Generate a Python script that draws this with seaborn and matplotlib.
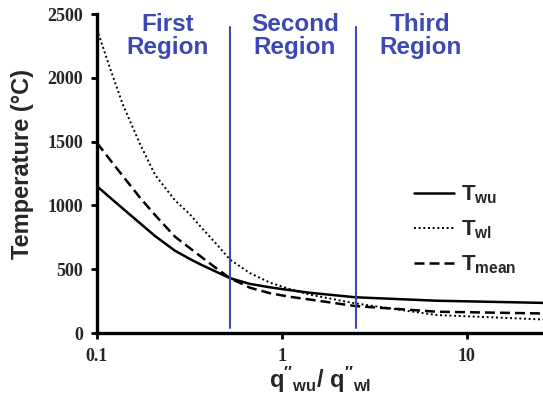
import numpy as np
import pandas as pd
import matplotlib
matplotlib.use('Agg')
import matplotlib.pyplot as plt
import seaborn as sns

# heat flux ratio q''wu / q''wl (log axis) and wall temperatures in deg C
ratio = [0.100, 0.118, 0.138, 0.171, 0.206, 0.264, 0.318, 0.360, 0.444,
         0.524, 0.671, 0.861, 1.10, 1.42, 2.50, 6.86, 25.8]
t_wu = [1150, 1060, 975, 860, 760, 645, 580, 540, 478,
        430, 385, 358, 336, 315, 280, 253, 236]
t_wl = [2380, 2070, 1790, 1480, 1240, 1040, 930, 840, 695,
        575, 470, 395, 345, 300, 232, 141, 106]
t_mean = [1490, 1355, 1230, 1060, 925, 755, 665, 605, 505,
          430, 355, 312, 284, 262, 211, 167, 153]

series_names = ['Twu', 'Twl', 'Tmean']
series_labels = [r'$\mathbf{T_{wu}}$', r'$\mathbf{T_{wl}}$', r'$\mathbf{T_{mean}}$']

region_bounds = [0.524, 2.50]
region_names = ['First\nRegion', 'Second\nRegion', 'Third\nRegion']
region_centers = [0.242, 1.175, 5.6]

x_ticks = [0.1, 1, 10]
y_ticks = [0, 500, 1000, 1500, 2000, 2500]

df = pd.DataFrame({
    'ratio': ratio * 3,
    'temp': t_wu + t_wl + t_mean,
    'series': np.repeat(series_names, len(ratio)),
})

sns.set_style('ticks')
plt.rcParams['font.family'] = ['Liberation Sans', 'DejaVu Sans']
plt.rcParams['mathtext.fontset'] = 'custom'
plt.rcParams['mathtext.rm'] = 'Liberation Sans:bold'
plt.rcParams['mathtext.bf'] = 'Liberation Sans:bold'
plt.rcParams['mathtext.it'] = 'Liberation Sans:bold'

blue = '#3c48b4'
styles = {
    'Twu': dict(linestyle='-', linewidth=1.8),
    'Twl': dict(linestyle=(0, (1, 1.4)), linewidth=1.4),
    'Tmean': dict(linestyle=(0, (4, 2)), linewidth=1.8),
}

fig = plt.figure(figsize=(5.43, 3.99), dpi=100)
ax = fig.add_axes([0.1786, 0.1654, 0.8214, 0.7995])

for name, label in zip(series_names, series_labels):
    sub = df[df['series'] == name]
    sns.lineplot(data=sub, x='ratio', y='temp', color='black', label=label,
                 estimator=None, sort=False, ax=ax, **styles[name])

for xb in region_bounds:
    ax.axvline(xb, ymin=0.015, ymax=0.958, color=blue, linewidth=1.5)

for xc, txt in zip(region_centers, region_names):
    ax.text(xc, 2325, txt, color=blue, fontsize=17.5, fontweight='bold',
            ha='center', va='center', linespacing=1.0)

ax.set_xscale('log')
ax.set_xlim(0.1, 25.8)
ax.set_ylim(0, 2500)
ax.set_xticks(x_ticks)
ax.set_xticklabels(['0.1', '1', '10'])
ax.set_yticks(y_ticks)
ax.minorticks_off()

for lbl in ax.get_xticklabels() + ax.get_yticklabels():
    lbl.set_fontfamily('Liberation Serif')
    lbl.set_fontweight('bold')
    lbl.set_fontsize(13)

ax.tick_params(axis='both', direction='out', length=4, width=2, color='black')
ax.tick_params(axis='y', pad=6)
ax.tick_params(axis='x', pad=7)

sns.despine(ax=ax)
for side in ['left', 'bottom']:
    ax.spines[side].set_linewidth(2.4)
    ax.spines[side].set_color('black')

ax.set_ylabel('Temperature (°C)', fontsize=17, fontweight='bold')
ax.yaxis.set_label_coords(-0.141, 0.53)
ax.set_xlabel(r'$\mathbf{q^{\prime\prime}{}_{wu}/\ q^{\prime\prime}{}_{wl}}$', fontsize=17)
ax.xaxis.set_label_coords(0.5, -0.10)

ax.legend(loc='upper left', bbox_to_anchor=(0.71, 0.468), frameon=False,
          fontsize=16, handlelength=1.8, handletextpad=0.35,
          labelspacing=0.55, borderpad=0, borderaxespad=0)

fig.savefig('out.png', dpi=100)
